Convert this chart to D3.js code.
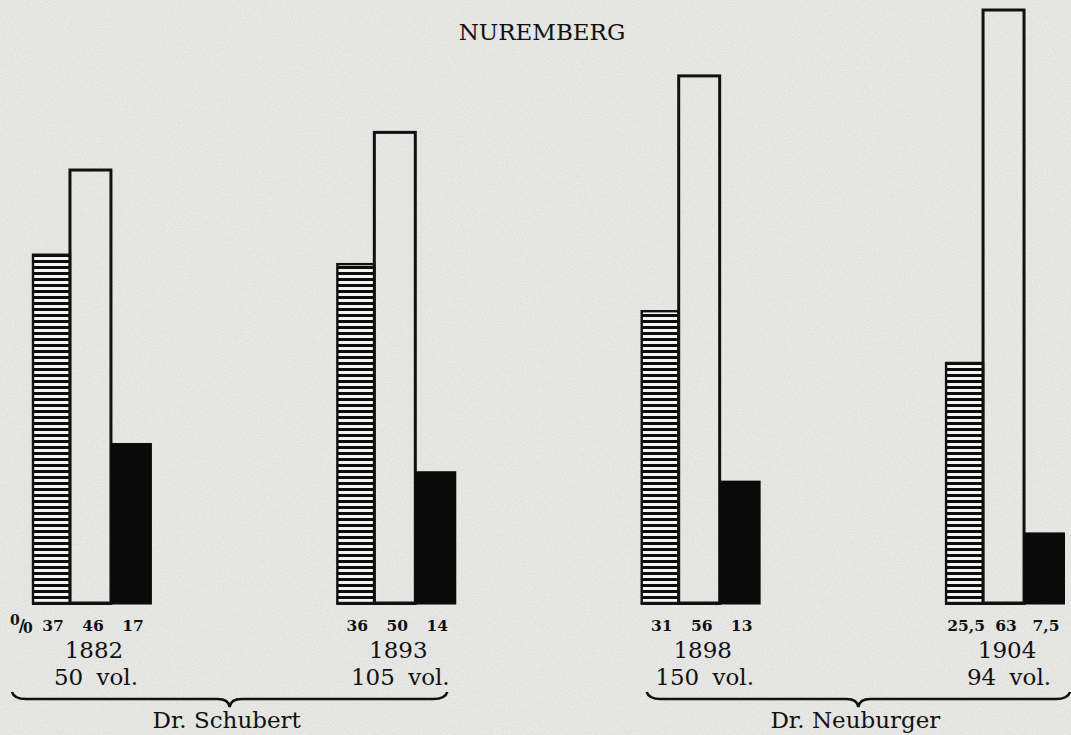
<!DOCTYPE html>
<html><head><meta charset="utf-8">
<script src="https://cdn.jsdelivr.net/npm/d3@7"></script>
<style>html,body{margin:0;padding:0;background:#e8e8e6;overflow:hidden}</style>
</head><body>
<script>
// ---- data ----
const title = "NUREMBERG";
const years = ["1882", "1893", "1898", "1904"];
const volumes = ["50 vol.", "105 vol.", "150 vol.", "94 vol."];
const series = ["hatched", "open", "black"];
const hatchedValues = [37, 36, 31, 25.5];
const openValues = [46, 50, 56, 63];
const blackValues = [17, 14, 13, 7.5];
const valueLabels = [["37", "46", "17"], ["36", "50", "14"], ["31", "56", "13"], ["25,5", "63", "7,5"]];
const authors = ["Dr. Schubert", "Dr. Neuburger"];
const authorYears = [["1882", "1893"], ["1898", "1904"]];

const W = 1071, H = 735;
const svg = d3.select("body").append("svg").attr("width", W).attr("height", H);

// paper texture
const defs = svg.append("defs");
const f = defs.append("filter").attr("id", "paper").attr("x", 0).attr("y", 0).attr("width", "100%").attr("height", "100%");
f.append("feTurbulence").attr("type", "fractalNoise").attr("baseFrequency", 0.9).attr("numOctaves", 2).attr("seed", 3).attr("result", "n");
f.append("feColorMatrix").attr("type", "matrix")
  .attr("values", "0 0 0 0 0.5  0 0 0 0 0.5  0 0 0 0 0.5  0 0 0 -1.6 1.05");
svg.append("rect").attr("width", W).attr("height", H).attr("fill", "#e9e9e7");
svg.append("rect").attr("width", W).attr("height", H).attr("filter", "url(#paper)").attr("opacity", 0.35);

// hatch pattern
const pat = defs.append("pattern").attr("id", "hatch").attr("patternUnits", "userSpaceOnUse")
  .attr("width", 8).attr("height", 6);
pat.append("rect").attr("width", 8).attr("height", 6).attr("fill", "#f4f4f2");
pat.append("rect").attr("y", 2).attr("width", 8).attr("height", 3).attr("fill", "#0d0d0d");

// scales
const x = d3.scaleBand().domain(years).range([32, 1065]).paddingInner(0.606).paddingOuter(0);
const xs = d3.scaleBand().domain(series).range([0, x.bandwidth()]);
const y = d3.scaleLinear().domain([0, 63]).range([603, 10]);

const data = years.map((yr, i) => ({
  year: yr, vol: volumes[i], labels: valueLabels[i],
  values: [hatchedValues[i], openValues[i], blackValues[i]]
}));

const serif = "'DejaVu Serif', 'Liberation Serif', serif";

svg.append("text").attr("x", 542).attr("y", 40).attr("text-anchor", "middle")
  .attr("font-family", serif).attr("font-size", 23).attr("fill", "#111").text(title);

const g = svg.selectAll("g.grp").data(data).enter().append("g")
  .attr("transform", d => `translate(${x(d.year)},0)`);

// hatched bars (slightly narrower than the others)
g.append("rect")
  .attr("x", xs("hatched") + 1).attr("width", xs.bandwidth() - 3)
  .attr("y", d => y(d.values[0])).attr("height", d => y(0) - y(d.values[0]))
  .attr("fill", "url(#hatch)").attr("stroke", "#111").attr("stroke-width", 2.4);

// open bars
g.append("rect")
  .attr("x", xs("open") - 2).attr("width", xs.bandwidth() + 1)
  .attr("y", d => y(d.values[1])).attr("height", d => y(0) - y(d.values[1]))
  .attr("fill", "none").attr("stroke", "#111").attr("stroke-width", 3);

// black bars
g.append("rect")
  .attr("x", xs("black") - 1).attr("width", xs.bandwidth() + 1)
  .attr("y", d => y(d.values[2])).attr("height", d => y(0) - y(d.values[2]) + 1.5)
  .attr("fill", "#0a0a0a");

// baseline
g.append("line")
  .attr("x1", xs("hatched")).attr("x2", xs("black"))
  .attr("y1", y(0) + 0.5).attr("y2", y(0) + 0.5)
  .attr("stroke", "#111").attr("stroke-width", 3);

// value labels
g.selectAll("text.v").data(d => d.labels.map((l, j) => ({ l, s: series[j] }))).enter().append("text")
  .attr("x", d => xs(d.s) + xs.bandwidth() / 2 + 1).attr("y", 631)
  .attr("text-anchor", "middle").attr("font-family", serif).attr("font-weight", "bold")
  .attr("font-size", 15.5).attr("fill", "#111").text(d => d.l);

// year & volume
g.append("text").attr("x", xs("open") + xs.bandwidth() / 2 + 2).attr("y", 658)
  .attr("text-anchor", "middle").attr("font-family", serif).attr("font-size", 23).attr("fill", "#111")
  .text(d => d.year);
g.append("text").attr("x", xs("open") + xs.bandwidth() / 2 + 4).attr("y", 685)
  .attr("text-anchor", "middle").attr("font-family", serif).attr("font-size", 23).attr("fill", "#111")
  .attr("word-spacing", 6).text(d => d.vol);

// percent sign for first group
const pc = svg.append("text").attr("x", 10).attr("y", 631).attr("font-family", serif)
  .attr("font-weight", "bold").attr("fill", "#111");
pc.append("tspan").attr("font-size", 14).attr("dy", -6).text("0");
pc.append("tspan").attr("font-size", 17).attr("dy", 6).attr("dx", -1).text("/");
pc.append("tspan").attr("font-size", 14).attr("dy", 2).attr("dx", -2).text("0");

// braces
const braceOffsets = [[-20, -9], [6, 5]];
authors.forEach((a, i) => {
  const [y0, y1] = authorYears[i];
  const xa = x(y0) + braceOffsets[i][0];
  const xb = x(y1) + x.bandwidth() + braceOffsets[i][1];
  const xm = (xa + xb) / 2;
  const yl = 699, ye = 692, yt = 707;
  const p = d3.path();
  p.moveTo(xa, ye);
  p.quadraticCurveTo(xa + 2, yl, xa + 14, yl);
  p.lineTo(xm - 12, yl);
  p.quadraticCurveTo(xm - 1, yl, xm, yt);
  p.quadraticCurveTo(xm + 1, yl, xm + 12, yl);
  p.lineTo(xb - 14, yl);
  p.quadraticCurveTo(xb - 2, yl, xb, ye);
  svg.append("path").attr("d", p.toString()).attr("fill", "none")
    .attr("stroke", "#111").attr("stroke-width", 2.6);
  svg.append("text").attr("x", xm - 3).attr("y", 728).attr("text-anchor", "middle")
    .attr("font-family", serif).attr("font-size", 23).attr("fill", "#111").text(a);
});
</script>
</body></html>
